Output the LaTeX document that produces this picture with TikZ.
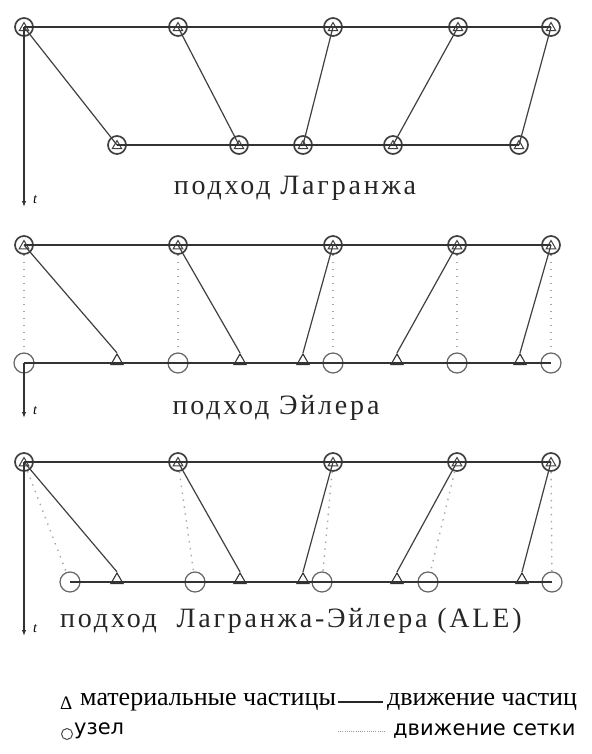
\documentclass[tikz,border=0pt]{standalone}
\usepackage{fontspec}
\setmainfont{Liberation Serif}
\newfontfamily\spacedf[LetterSpace=10]{Liberation Serif}
\newfontfamily\sansf{DejaVu Sans}
\usetikzlibrary{shapes.geometric,arrows.meta}
\begin{document}
\begin{tikzpicture}[x=1pt,y=-1pt,
 pnode/.style={circle, draw=black!75, line width=1.7pt, minimum size=18pt, inner sep=0pt},
 ptri/.style={regular polygon, regular polygon sides=3, draw=black!75, line width=1pt, minimum size=11pt, inner sep=0pt},
 gnode/.style={circle, draw=black!60, line width=1.2pt, minimum size=20pt, inner sep=0pt},
 mtri/.style={regular polygon, regular polygon sides=3, draw=black!80, line width=1.1pt, minimum size=14pt, inner sep=0pt},
 hline/.style={draw=black!80, line width=2pt},
 pline/.style={draw=black!75, line width=1.2pt},
 mline/.style={draw=black!35, line width=1.4pt, dash pattern=on 1.4pt off 5.6pt},
 taxis/.style={draw=black!80, line width=1.6pt, -{Latex[length=6pt,width=4.5pt]}},
 plabel/.style={font=\spacedf\fontsize{28}{32}\selectfont, inner sep=0pt, text=black!85},
 tlabel/.style={font=\itshape\fontsize{14}{15}\selectfont, inner sep=0pt},
 legser/.style={font=\fontsize{26}{28}\selectfont, inner sep=0pt, anchor=west},
 legsans/.style={font=\sansf\fontsize{21}{23}\selectfont, inner sep=0pt, anchor=west},
 legdot/.style={draw=black!40, line width=0.8pt, dash pattern=on 1pt off 1.2pt}
]
\useasboundingbox[fill=white] (0,0) rectangle (591,754);

% ---------- Lagrange ----------
\foreach \n/\x in {0/24,1/178,2/333,3/458,4/551}{
  \node[pnode] (la\n) at (\x,27) {};
  \node[ptri] (lat\n) at (\x,28) {};
}
\foreach \n/\x in {0/117,1/239,2/303,3/393,4/519}{
  \node[pnode] (lb\n) at (\x,145) {};
  \node[ptri] (lbt\n) at (\x,146) {};
}
\draw[hline] (la0.center) -- (la4.center);
\draw[hline] (lb0.center) -- (lb4.center);
\foreach \i in {0,...,4}{\draw[pline] (la\i.center) -- (lb\i.center);}
\coordinate (lt) at (24,207);
\draw[taxis] (la0.center) -- (lt);
\node[tlabel, anchor=west] (ltl) at (33,200) {t};
\node[plabel] (lagl) at (295,188) {подход Лагранжа};

% ---------- Euler ----------
\foreach \n/\x in {0/24,1/178,2/333,3/457,4/551}{
  \node[pnode] (ea\n) at (\x,245) {};
  \node[ptri] (eat\n) at (\x,246) {};
  \node[gnode] (eb\n) at (\x,363) {};
}
\foreach \n/\x in {0/117,1/240,2/303,3/397,4/520}{
  \node[mtri] (et\n) at (\x,361) {};
}
\draw[hline] (ea0.center) -- (ea4.center);
\draw[hline] (eb0.center) -- (eb4.center);
\foreach \i in {0,...,4}{
  \draw[pline] (ea\i.center) -- (et\i.corner 1);
  \draw[mline] (ea\i.south) -- (eb\i.north);
}
\coordinate (et) at (24,418);
\draw[taxis] (eb0.center) -- (et);
\node[tlabel, anchor=west] (etl) at (33,411) {t};
\node[plabel] (eull) at (276,408) {подход Эйлера};

% ---------- ALE ----------
\foreach \n/\x in {0/24,1/178,2/333,3/457,4/551}{
  \node[pnode] (aa\n) at (\x,462) {};
  \node[ptri] (aat\n) at (\x,463) {};
}
\foreach \n/\x in {0/70,1/195,2/322,3/428,4/552}{
  \node[gnode] (ab\n) at (\x,582) {};
}
\foreach \n/\x in {0/117,1/240,2/303,3/397,4/522}{
  \node[mtri] (at\n) at (\x,580) {};
}
\draw[hline] (aa0.center) -- (aa4.center);
\draw[hline] (ab0.center) -- (ab4.center);
\foreach \i in {0,...,4}{
  \draw[pline] (aa\i.center) -- (at\i.corner 1);
  \draw[mline] (aa\i) -- (ab\i);
}
\coordinate (at) at (24,636);
\draw[taxis] (aa0.center) -- (at);
\node[tlabel, anchor=west] (atl) at (33,629) {t};
\node[plabel, anchor=west] (alel) at (60,621) {подход\ \ Лагранжа-Эйлера (ALE)};

% ---------- Legend ----------
\node[legser, font=\fontsize{19}{21}\selectfont] (ltri) at (60,703) {Δ};
\node[legser] (lmat) at (80,702) {материальные частицы};
\node[legser] (ldv) at (387,702) {движение частиц};
\draw[draw=black!85, line width=1.4pt] ([xshift=2pt]lmat.east) -- ([xshift=-4pt]ldv.west);
\node[circle, draw=black!70, line width=1pt, minimum size=11pt, inner sep=0pt] (lcirc) at (67,734) {};
\node[legsans] (luz) at (74,731) {узел};
\node[legsans] (lset) at (393,731) {движение сетки};
\coordinate (ldot) at (338,731);
\draw[legdot] (ldot) -- ([xshift=-8pt]lset.west);
\end{tikzpicture}
\end{document}
